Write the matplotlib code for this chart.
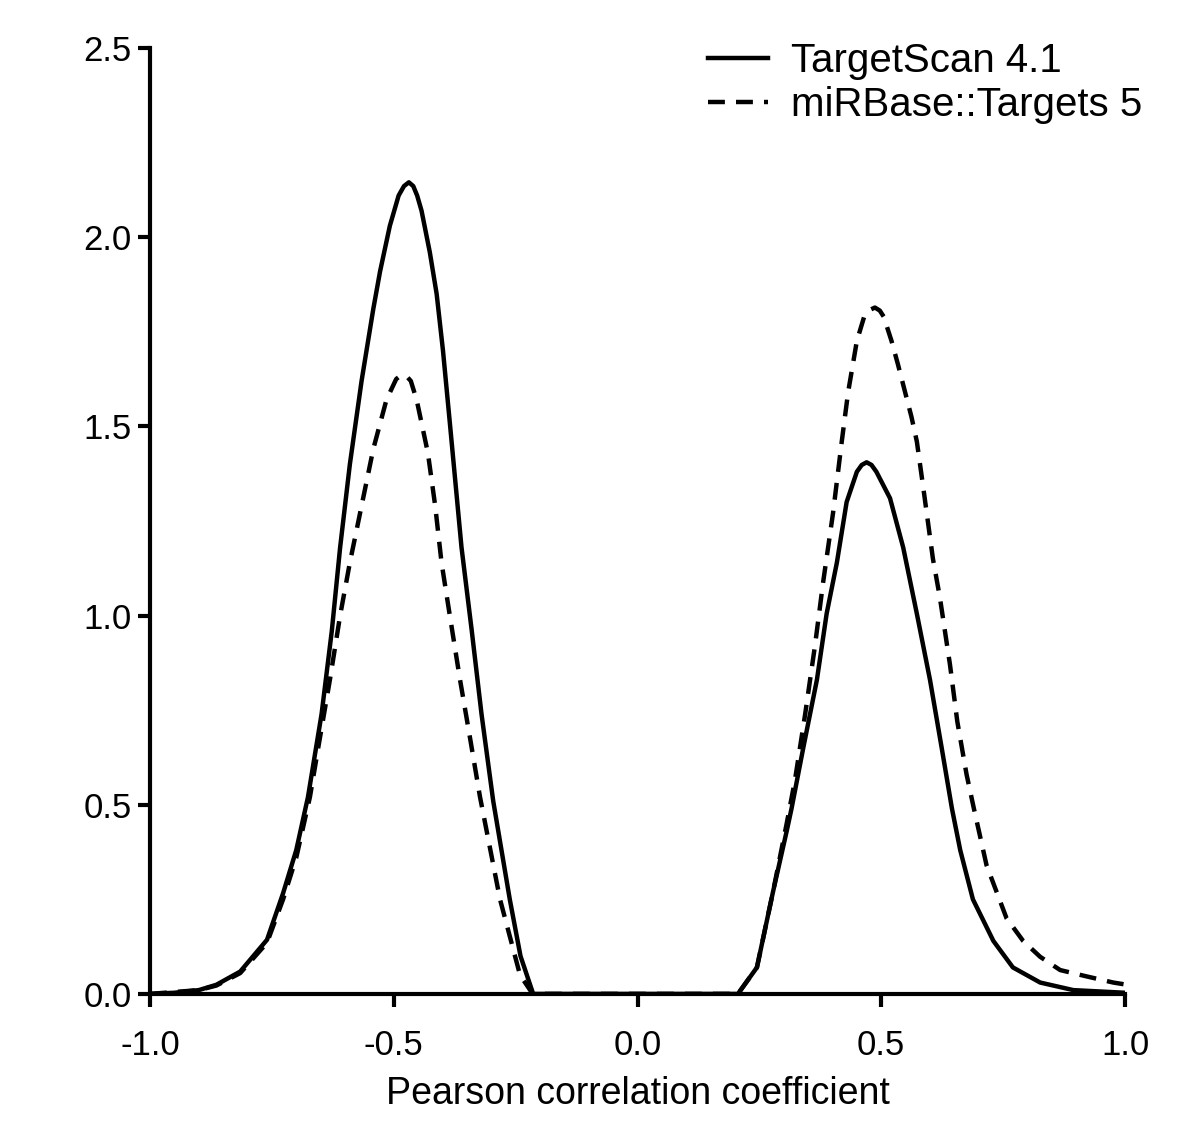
import matplotlib
matplotlib.use('Agg')
import matplotlib.pyplot as plt

# density curves
ts_x = [-1.0, -0.95, -0.9, -0.864, -0.815, -0.76, -0.727, -0.70, -0.676, -0.648,
        -0.627, -0.61, -0.59, -0.566, -0.542, -0.528, -0.508, -0.49, -0.479, -0.469,
        -0.46, -0.452, -0.443, -0.426, -0.412, -0.399, -0.385, -0.361, -0.34, -0.32,
        -0.296, -0.262, -0.24, -0.214, 0.206, 0.245, 0.278, 0.306, 0.316, 0.34,
        0.368, 0.388, 0.409, 0.429, 0.45, 0.46, 0.47, 0.48, 0.49, 0.518,
        0.545, 0.573, 0.60, 0.624, 0.645, 0.662, 0.688, 0.73, 0.77, 0.826,
        0.894, 1.0]
ts_y = [0.0, 0.003, 0.01, 0.024, 0.059, 0.143, 0.266, 0.38, 0.52, 0.74,
        0.96, 1.18, 1.40, 1.62, 1.81, 1.91, 2.03, 2.11, 2.135, 2.145,
        2.135, 2.11, 2.07, 1.96, 1.85, 1.70, 1.51, 1.18, 0.96, 0.74,
        0.51, 0.25, 0.10, 0.0, 0.0, 0.07, 0.27, 0.43, 0.49, 0.65,
        0.83, 1.005, 1.14, 1.30, 1.38, 1.398, 1.405, 1.398, 1.38, 1.31,
        1.18, 1.005, 0.83, 0.65, 0.49, 0.38, 0.25, 0.14, 0.07, 0.03,
        0.01, 0.003]

mb_x = [-1.0, -0.9, -0.864, -0.815, -0.76, -0.727, -0.70, -0.672, -0.655, -0.631,
        -0.61, -0.59, -0.566, -0.542, -0.515, -0.495, -0.488, -0.48, -0.472, -0.465,
        -0.453, -0.43, -0.415, -0.402, -0.385, -0.364, -0.344, -0.323, -0.282, -0.241,
        -0.215, 0.206, 0.245, 0.278, 0.306, 0.323, 0.344, 0.364, 0.381, 0.401,
        0.419, 0.432, 0.45, 0.465, 0.477, 0.487, 0.497, 0.505, 0.521, 0.534,
        0.549, 0.562, 0.573, 0.586, 0.606, 0.62, 0.641, 0.656, 0.675, 0.69,
        0.716, 0.757, 0.791, 0.826, 0.867, 0.922, 0.976, 1.0]
mb_y = [0.0, 0.01, 0.022, 0.055, 0.135, 0.25, 0.36, 0.52, 0.65, 0.83,
        1.00, 1.14, 1.29, 1.44, 1.57, 1.625, 1.632, 1.636, 1.63, 1.62,
        1.57, 1.43, 1.29, 1.14, 1.00, 0.83, 0.68, 0.52, 0.25, 0.05,
        0.0, 0.0, 0.07, 0.27, 0.45, 0.565, 0.74, 0.92, 1.09, 1.27,
        1.46, 1.59, 1.726, 1.79, 1.808, 1.814, 1.806, 1.79, 1.726, 1.665,
        1.59, 1.525, 1.46, 1.34, 1.15, 1.05, 0.87, 0.72, 0.58, 0.49,
        0.34, 0.20, 0.14, 0.098, 0.063, 0.046, 0.03, 0.025]

x_ticks = [-1.0, -0.5, 0.0, 0.5, 1.0]
y_ticks = [0.0, 0.5, 1.0, 1.5, 2.0, 2.5]

plt.rcParams['font.family'] = ['Liberation Sans', 'DejaVu Sans']

fig = plt.figure(figsize=(12, 11.32), dpi=100)
ax = fig.add_axes([0.125, 0.122, 0.8125, 0.8356])

ax.plot(ts_x, ts_y, color='black', lw=3.2, label='TargetScan 4.1')
ax.plot(mb_x, mb_y, color='black', lw=3.2, dashes=(3.8, 2.5), label='miRBase::Targets 5')

ax.set_xlim(-1.0, 1.0)
ax.set_ylim(0, 2.5)
ax.set_xticks(x_ticks)
ax.set_yticks(y_ticks)
ax.set_xticklabels([f'{v:.1f}' for v in x_ticks])
ax.set_yticklabels([f'{v:.1f}' for v in y_ticks])

for s in ['top', 'right']:
    ax.spines[s].set_visible(False)
for s in ['left', 'bottom']:
    ax.spines[s].set_linewidth(3)
ax.tick_params(direction='out', length=9, width=3, labelsize=25)
ax.tick_params(axis='x', pad=16)
ax.tick_params(axis='y', pad=4)

ax.set_xlabel('Pearson correlation coefficient', fontsize=27, labelpad=10)

ax.legend(loc='upper left', bbox_to_anchor=(0.590, 0.963), bbox_transform=fig.transFigure,
          frameon=False, fontsize=29, handlelength=1.5, handletextpad=0.57,
          labelspacing=0.15, borderpad=0, borderaxespad=0)

fig.savefig('out.png', dpi=100)
